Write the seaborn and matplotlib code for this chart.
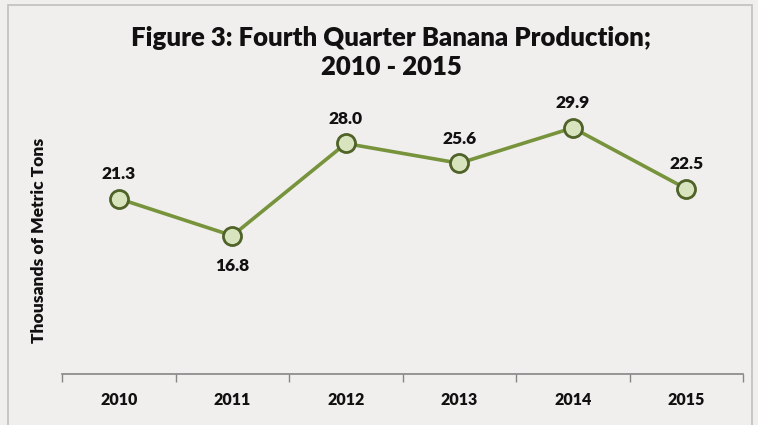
import matplotlib
matplotlib.use("Agg")
import matplotlib.pyplot as plt
import matplotlib.patches as patches
from matplotlib.ticker import FixedLocator, NullFormatter
import seaborn as sns
import pandas as pd

# ---- data ----
years = ["2010", "2011", "2012", "2013", "2014", "2015"]
production = [21.3, 16.8, 28.0, 25.6, 29.9, 22.5]
label_above = [True, False, True, True, True, True]

df = pd.DataFrame({"pos": range(len(years)), "year": years, "value": production})

sns.set_theme(style="white")
plt.rcParams["font.family"] = ["Lato", "DejaVu Sans"]

bg = "#F0EFED"
txt = "#111111"
fig = plt.figure(figsize=(7.58, 4.25), dpi=100, facecolor=bg)
ax = fig.add_axes([0.0818, 0.12, 0.8985, 0.678])
ax.set_facecolor(bg)

# outer chart border
fig.patches.append(patches.Rectangle((8 / 758, -0.05), 744 / 758, 1 - 5 / 425 + 0.05,
                                     transform=fig.transFigure, fill=False,
                                     edgecolor="#BFBFBF", linewidth=1.2))

sns.lineplot(data=df, x="pos", y="value", ax=ax, color="#77933C", linewidth=2.6,
             marker="o", markersize=13, markerfacecolor="#D7E4BD",
             markeredgecolor="#4F6228", markeredgewidth=2)

for i, (v, up) in enumerate(zip(production, label_above)):
    ax.annotate(f"{v:.1f}", (i, v), xytext=(0, 12 if up else -16),
                textcoords="offset points", ha="center",
                va="bottom" if up else "top", fontsize=12.5, fontweight="heavy",
                color=txt)

ax.set_xlim(-0.5, len(years) - 0.5)
ax.set_ylim(0, 35)
ax.set_yticks([])
ax.set_xticks(range(len(years)))
ax.set_xticklabels(years, fontsize=11.5, fontweight="heavy", color=txt)
ax.xaxis.set_minor_locator(FixedLocator([i - 0.5 for i in range(len(years) + 1)]))
ax.xaxis.set_minor_formatter(NullFormatter())
ax.tick_params(axis="x", which="major", length=0, pad=13)
ax.tick_params(axis="x", which="minor", length=6, width=1, color="#868686",
               direction="out", bottom=True)

for s in ["top", "right", "left"]:
    ax.spines[s].set_visible(False)
ax.spines["bottom"].set_color("#868686")
ax.spines["bottom"].set_linewidth(1.2)

ax.set_xlabel("")
ax.set_ylabel("Thousands of Metric Tons", fontsize=12.5, fontweight="heavy", color=txt)
ax.yaxis.set_label_coords(-0.022, 0.465)

fig.text(0.516, 0.876, "Figure 3: Fourth Quarter Banana Production;\n2010 - 2015",
         ha="center", va="center", fontsize=18.5, fontweight="heavy",
         color=txt, linespacing=1.25)

fig.savefig("out.png", dpi=100, facecolor=bg)
